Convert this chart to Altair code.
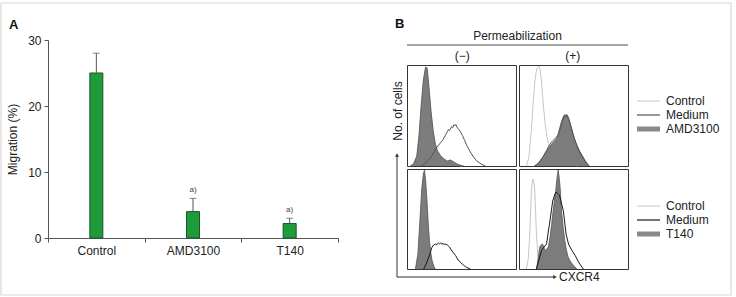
import altair as alt
import pandas as pd

# ---------------- Panel A data ----------------
groups = ["Control", "AMD3100", "T140"]
migration = [25.0, 4.0, 2.2]
migration_err = [3.0, 2.0, 0.8]
sig_marks = ["", "a)", "a)"]

# ---------------- Panel B data (histograms, % of panel width / height) ----------------
# top-left: AMD3100, permeabilization (-)
tl_fill_x = [3, 6, 9, 11, 13, 15, 17, 18.5, 20, 22, 24, 26, 28, 31, 34, 37, 40, 43, 46, 50, 52]
tl_fill_y = [0, 2, 10, 30, 60, 85, 98, 97, 80, 55, 35, 22, 15, 10, 7, 5, 6, 4, 2, 0.5, 0]
tl_ctrl_x = [3, 6, 9, 11, 13, 15, 17, 18.5, 20, 22, 24, 26, 28, 31, 34, 38, 42, 46, 50]
tl_ctrl_y = [0, 2, 9, 28, 58, 83, 96, 95, 78, 52, 33, 20, 13, 8, 5, 4, 3, 1, 0]
tl_med_x = [13, 16, 20, 24, 27, 30, 33, 35, 37, 38, 39, 41, 42, 43, 44, 45, 46, 47, 49, 51, 53, 55, 58, 61, 64, 68, 72]
tl_med_y = [0, 2, 6, 12, 18, 22, 26, 30, 34, 36, 35, 39, 38, 41, 40, 41, 38, 37, 34, 30, 25, 20, 14, 9, 5, 2, 0]

# top-right: AMD3100, permeabilization (+)
tr_fill_x = [14.5, 18, 22, 25, 28, 31, 34.5, 36, 37.7, 39, 40.7, 42, 43, 44, 45, 46.5, 48.5, 50.5, 53, 55.5, 58, 61, 64]
tr_fill_y = [0, 3, 9, 14, 19, 23, 27, 32, 39, 44, 49, 51, 50, 51, 48, 43, 36, 28, 21, 15, 10.5, 5, 0]
tr_ctrl_x = [6.8, 9, 11.4, 13, 14.5, 16, 17, 18.5, 19.5, 20.7, 22, 23.8, 25.5, 27, 30, 33, 36, 39, 42, 45, 48.5, 53]
tr_ctrl_y = [0, 8, 36, 62, 83, 95, 98, 99, 94, 83, 65, 43, 30, 22, 15.5, 11, 7, 6, 5, 3.5, 2, 0]
tr_med_x = [14, 18, 22, 25, 28, 31, 34, 36, 38, 39.5, 41, 42, 43.5, 44.5, 46, 48, 50, 52.5, 55, 58, 61, 64.5]
tr_med_y = [0, 3, 9, 15, 21, 25, 28, 31, 37, 43, 48, 50, 49, 50, 46, 38, 30, 22, 15, 9, 4, 0]

# bottom-left: T140, permeabilization (-)
bl_fill_x = [7.7, 10, 12, 13.5, 15, 16, 17, 18.4, 19.5, 20.5, 21.8, 23, 24.5, 26]
bl_fill_y = [0, 15, 52, 80, 95, 99, 90, 68, 45, 28.5, 16, 8.6, 3, 0]
bl_ctrl_x = [8.5, 10.5, 12.5, 13.8, 15, 16, 17, 18.2, 19.2, 20, 21.5, 23, 24.5]
bl_ctrl_y = [0, 12, 35, 52, 64, 70, 69, 58, 45, 35, 18, 5, 0]
bl_med_x = [15.3, 17.5, 20, 21.5, 23, 24.5, 26, 27, 28, 29, 30, 31, 32, 33, 34, 35, 37, 39, 40, 42, 44.5, 47, 50.6, 54, 58]
bl_med_y = [0, 5, 12, 17, 22, 24, 25, 24, 25.5, 26, 25, 26, 25, 25.5, 24.5, 25, 24, 22, 20, 17, 13.6, 9, 5, 2, 0]

# bottom-right: T140, permeabilization (+)
br_fill_x = [16, 17.5, 19, 20.3, 21.6, 22.7, 23.8, 25.5, 27, 28.5, 30, 31.2, 32.4, 33.5, 34.6, 35.3, 36, 36.8, 37.7, 39, 40.5, 42, 43.5, 45, 47.5, 50, 53]
br_fill_y = [0, 10, 22, 24, 25, 22, 18.6, 20, 22, 32, 45, 57, 68, 76, 88, 95, 99, 92, 82, 58, 42, 28.6, 19, 12, 7, 3.6, 0]
br_ctrl_x = [6.8, 8.5, 9.9, 11.4, 12.2, 13, 13.8, 14.5, 16, 17.6, 19.8]
br_ctrl_y = [0, 10, 35, 78, 88, 90, 86, 78, 35, 8.6, 0]
br_med_x = [16, 18.5, 20.7, 23, 25.3, 27, 28.4, 30.9, 33, 34, 35, 36, 37, 38, 40.7, 43.2, 45.4, 48.5, 51.5, 54.6, 57.7, 59]
br_med_y = [0, 10, 18.6, 22, 25, 38, 48, 68, 75, 77, 76, 75, 74, 70, 58, 35, 25, 18.6, 13.6, 7, 2, 0]

perm_labels = ["(−)", "(+)"]
legend_top = ["Control", "Medium", "AMD3100"]
legend_bottom = ["Control", "Medium", "T140"]

FONT = "Liberation Sans"
TXT = "#222222"
NOVIEW = alt.ViewBackground(stroke="transparent", strokeWidth=0)

# ---------------- Panel A ----------------
bar_df = pd.DataFrame({"group": groups, "mean": migration, "err": migration_err, "sig": sig_marks})
bar_df["upper"] = bar_df["mean"] + bar_df["err"]

xA = alt.X("group:N", sort=groups,
           scale=alt.Scale(paddingInner=0, paddingOuter=0),
           axis=alt.Axis(title=None, tickBand="extent", labelAngle=0, labelFontSize=12,
                         labelColor=TXT, domainColor="#555555", tickColor="#555555",
                         tickSize=4, labelPadding=3))
yA = alt.Y("mean:Q", scale=alt.Scale(domain=[0, 30]),
           axis=alt.Axis(values=[0, 10, 20, 30], title="Migration (%)", grid=False,
                         labelFontSize=12, labelColor=TXT, titleFontSize=12,
                         titleFontWeight="normal", titleColor=TXT, domainColor="#555555",
                         tickColor="#555555", tickSize=4, labelPadding=3, titlePadding=8))

one = pd.DataFrame({"k": [0]})

# light frame around the whole figure (decoration, pixel offsets from panel A's plot origin)
frame = alt.Chart(one).mark_rect(fill="transparent", stroke="#d8d8d8", strokeWidth=1.2).encode(
    x=alt.value(-47), x2=alt.value(683), y=alt.value(-37), y2=alt.value(255))
label_A = alt.Chart(one).mark_text(text="A", fontSize=13, fontWeight="bold", color="#111111",
                                   align="left", baseline="middle").encode(
    x=alt.value(-39), y=alt.value(-15))

bars = alt.Chart(bar_df).mark_bar(width=13, color="#1f9b3a", stroke="#13592a", strokeWidth=1).encode(x=xA, y=yA)
err_rule = alt.Chart(bar_df).mark_rule(color="#555555", strokeWidth=1).encode(
    x=alt.X("group:N", sort=groups), y="mean:Q", y2="upper:Q")
err_cap = alt.Chart(bar_df).mark_tick(color="#555555", thickness=1, size=7, orient="horizontal").encode(
    x=alt.X("group:N", sort=groups), y="upper:Q")
sig_text = alt.Chart(bar_df).mark_text(dy=-8, fontSize=8, color="#444444").encode(
    x=alt.X("group:N", sort=groups), y="upper:Q", text="sig:N")

panelA = alt.layer(frame, label_A, bars, err_rule, err_cap, sig_text).properties(
    width=290, height=198, view=NOVIEW)

# ---------------- Panel B ----------------
rows = []
def add(panel, series, xs, ys):
    for xv, yv in zip(xs, ys):
        rows.append({"panel": panel, "series": series, "x": xv, "y": yv})

add("TL", "fill", tl_fill_x, tl_fill_y); add("TL", "Control", tl_ctrl_x, tl_ctrl_y); add("TL", "Medium", tl_med_x, tl_med_y)
add("TR", "fill", tr_fill_x, tr_fill_y); add("TR", "Control", tr_ctrl_x, tr_ctrl_y); add("TR", "Medium", tr_med_x, tr_med_y)
add("BL", "fill", bl_fill_x, bl_fill_y); add("BL", "Control", bl_ctrl_x, bl_ctrl_y); add("BL", "Medium", bl_med_x, bl_med_y)
add("BR", "fill", br_fill_x, br_fill_y); add("BR", "Control", br_ctrl_x, br_ctrl_y); add("BR", "Medium", br_med_x, br_med_y)
hist_df = pd.DataFrame(rows)

FILL = "#7c7c7c"
CTRL = "#c6c6c6"

def hist(panel, med_color, height, extra=None):
    d = hist_df[hist_df["panel"] == panel]
    base = alt.Chart(d).encode(
        x=alt.X("x:Q", scale=alt.Scale(domain=[0, 100], nice=False, zero=False), axis=None),
        y=alt.Y("y:Q", scale=alt.Scale(domain=[0, 100], nice=False), axis=None, stack=None))
    ctrl = base.transform_filter(alt.datum.series == "Control").mark_line(color=CTRL, strokeWidth=1)
    area = base.transform_filter(alt.datum.series == "fill").mark_area(color=FILL, opacity=1)
    edge = base.transform_filter(alt.datum.series == "fill").mark_line(color="#555555", strokeWidth=0.8)
    med = base.transform_filter(alt.datum.series == "Medium").mark_line(color=med_color, strokeWidth=1)
    layers = [ctrl, area, edge, med] + (extra or [])
    return alt.layer(*layers).properties(
        width=109, height=height,
        view=alt.ViewBackground(stroke="#333333", strokeWidth=1))

ylab = alt.Chart(one).mark_text(text="No. of cells", angle=270, fontSize=12, color=TXT,
                                align="center", baseline="middle").encode(
    x=alt.value(-9), y=alt.value(46))

arrow_v = alt.Chart(one).mark_rule(color="#333333", strokeWidth=1).encode(
    x=alt.value(-10), y=alt.value(-13), y2=alt.value(108))
arrow_h = alt.Chart(one).mark_rule(color="#333333", strokeWidth=1).encode(
    x=alt.value(-10), x2=alt.value(147), y=alt.value(108))
head_v = alt.Chart(one).mark_point(shape="triangle-up", filled=True, size=16, color="#333333", opacity=1).encode(
    x=alt.value(-10), y=alt.value(-14))
head_h = alt.Chart(one).mark_point(shape="triangle-right", filled=True, size=16, color="#333333", opacity=1).encode(
    x=alt.value(148), y=alt.value(108))
xlab = alt.Chart(one).mark_text(text="CXCR4", fontSize=12, color=TXT, align="left", baseline="middle").encode(
    x=alt.value(152), y=alt.value(108))

tl = hist("TL", "#555555", 101, [ylab])
tr = hist("TR", "#555555", 101)
bl = hist("BL", "#1a1a1a", 100, [arrow_v, arrow_h, head_v, head_h, xlab])
br = hist("BR", "#1a1a1a", 100)

def legend(items, med_color, y0, height):
    ldf = pd.DataFrame({"item": items})
    yl = alt.Y("item:N", scale=alt.Scale(type="point", domain=items, range=[y0, y0 + 28], padding=0), axis=None)
    styles = [(CTRL, 1), (med_color, 1.2), ("#8a8a8a", 5)]
    layers = []
    for item, (col, w) in zip(items, styles):
        layers.append(alt.Chart(ldf).transform_filter(alt.datum.item == item).mark_rule(
            color=col, strokeWidth=w).encode(x=alt.value(6), x2=alt.value(29), y=yl))
    tx = alt.Chart(ldf).mark_text(align="left", baseline="middle", fontSize=12, color=TXT).encode(
        x=alt.value(35), y=yl, text="item:N")
    layers.append(tx)
    return alt.layer(*layers).properties(width=80, height=height, view=NOVIEW)

leg1 = legend(legend_top, "#555555", 36, 101)
leg2 = legend(legend_bottom, "#1a1a1a", 37, 100)

perm_df = pd.DataFrame({"perm": perm_labels})
perm_text = alt.Chart(perm_df).mark_text(fontSize=12, color=TXT, baseline="middle").encode(
    x=alt.X("perm:N", sort=perm_labels, scale=alt.Scale(domain=perm_labels, paddingInner=0, paddingOuter=0), axis=None),
    y=alt.value(16), text="perm:N")
perm_rule = alt.Chart(one).mark_rule(color="#8a8a8a", strokeWidth=1.5).encode(
    x=alt.value(0), x2=alt.value(221), y=alt.value(5))
perm_title = alt.Chart(one).mark_text(text="Permeabilization", fontSize=12, color=TXT, baseline="middle").encode(
    x=alt.value(110.5), y=alt.value(-4))
label_B = alt.Chart(one).mark_text(text="B", fontSize=13, fontWeight="bold", color="#111111",
                                   align="left", baseline="middle").encode(
    x=alt.value(-12), y=alt.value(-16))
header = alt.layer(perm_text, perm_rule, perm_title, label_B).properties(width=221, height=22, view=NOVIEW)

grid = alt.concat(tl, tr, leg1, bl, br, leg2, columns=3, spacing=3, bounds="flush").resolve_scale(
    x="independent", y="independent")
panelB = alt.vconcat(header, grid, spacing=3, bounds="flush").resolve_scale(x="independent", y="independent")

chart = alt.hconcat(panelA, panelB, spacing=69, bounds="flush").resolve_scale(
    x="independent", y="independent"
).properties(
    padding={"left": 0, "top": 2, "right": 0, "bottom": 0}
).configure_view(strokeWidth=0).configure(font=FONT)

chart.save("out.html", embed_options={"renderer": "svg", "actions": False})
